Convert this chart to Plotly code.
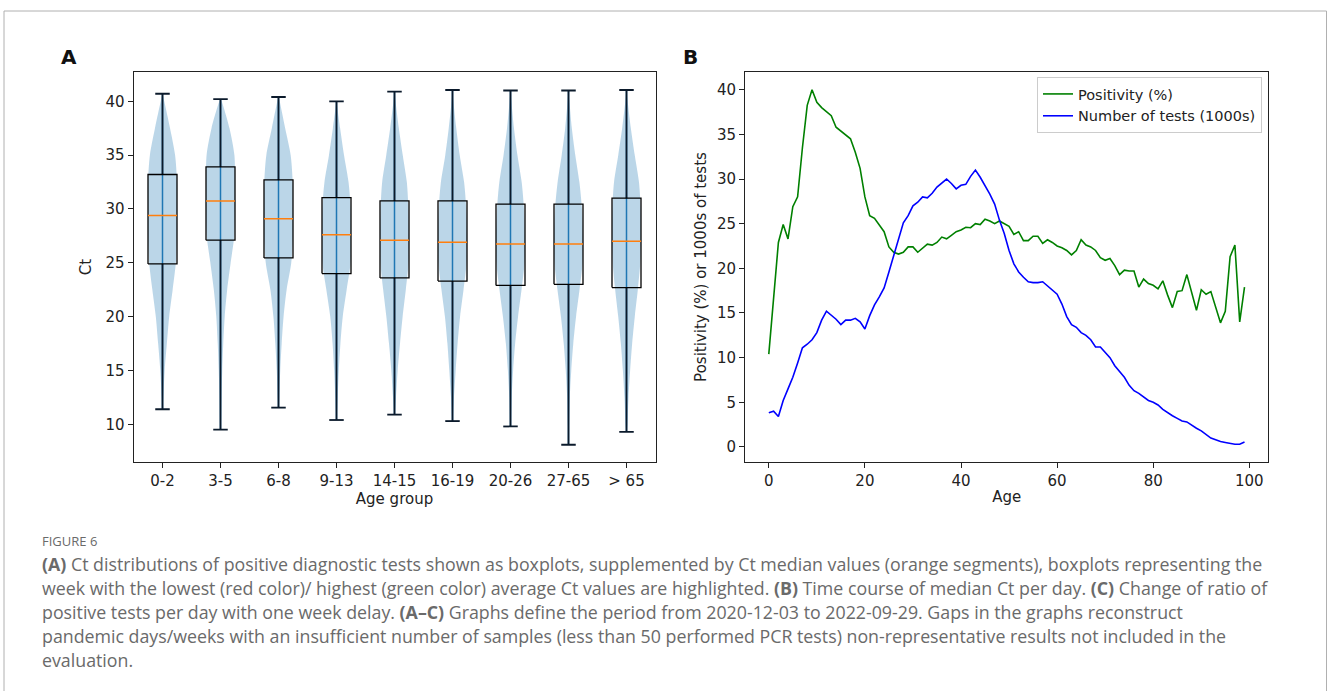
import plotly.graph_objects as go

W, H = 1328, 691

# ---------------- Panel A data ----------------
age_groups = ["0-2", "3-5", "6-8", "9-13", "14-15", "16-19", "20-26", "27-65", "> 65"]
ct_min = [11.4, 9.5, 11.55, 10.4, 10.9, 10.3, 9.8, 8.1, 9.3]
ct_q1 = [24.9, 27.1, 25.45, 24.0, 23.6, 23.3, 22.9, 23.0, 22.7]
ct_median = [29.4, 30.75, 29.1, 27.6, 27.1, 26.9, 26.75, 26.75, 27.0]
ct_q3 = [33.2, 33.9, 32.7, 31.05, 30.75, 30.75, 30.45, 30.45, 31.0]
ct_max = [40.7, 40.2, 40.4, 40.0, 40.9, 41.05, 41.0, 41.0, 41.05]

# relative violin density (1 = widest) at these Ct levels
violin_levels = [10, 12.5, 15, 17.5, 20, 22.5, 25, 27.5, 30, 32.5, 35, 37.5, 40]
vd_0_2 = [0.0, 0.05, 0.15, 0.30, 0.46, 0.70, 0.92, 1.0, 1.0, 1.0, 0.87, 0.52, 0.12]
vd_3_5 = [0.03, 0.07, 0.12, 0.19, 0.29, 0.46, 0.70, 0.95, 1.0, 1.0, 0.96, 0.62, 0.08]
vd_6_8 = [0.0, 0.05, 0.12, 0.22, 0.35, 0.56, 0.88, 1.0, 1.0, 0.98, 0.84, 0.46, 0.08]
vd_9_13 = [0.0, 0.08, 0.16, 0.27, 0.43, 0.70, 0.97, 1.0, 0.98, 0.83, 0.52, 0.25, 0.03]
vd_14_15 = [0.0, 0.10, 0.22, 0.38, 0.56, 0.78, 0.97, 1.0, 0.96, 0.85, 0.57, 0.30, 0.07]
vd_16_19 = [0.0, 0.10, 0.22, 0.35, 0.52, 0.76, 0.97, 1.0, 0.95, 0.80, 0.50, 0.26, 0.06]
vd_20_26 = [0.02, 0.08, 0.18, 0.32, 0.52, 0.76, 0.97, 1.0, 0.93, 0.77, 0.48, 0.24, 0.06]
vd_27_65 = [0.04, 0.09, 0.19, 0.33, 0.52, 0.76, 0.97, 1.0, 0.93, 0.75, 0.47, 0.23, 0.06]
vd_over_65 = [0.06, 0.14, 0.25, 0.39, 0.57, 0.78, 0.95, 1.0, 0.98, 0.86, 0.57, 0.30, 0.08]
violin_density = [vd_0_2, vd_3_5, vd_6_8, vd_9_13, vd_14_15, vd_16_19, vd_20_26, vd_27_65, vd_over_65]

# ---------------- Panel B data ----------------
ages = list(range(100))
positivity = [10.4, 16.5, 22.9, 24.9, 23.3, 26.9, 28.0, 33.5, 38.25, 40.0,
              38.6, 38.0, 37.5, 37.1, 35.8, 35.4, 35.0, 34.5, 33.0, 31.2,
              28.0, 25.9, 25.6, 24.8, 24.1, 22.4, 21.8, 21.6, 21.8, 22.4,
              22.4, 21.8, 22.2, 22.7, 22.6, 22.9, 23.5, 23.3, 23.7, 24.1,
              24.3, 24.6, 24.55, 25.0, 24.9, 25.5, 25.3, 25.0, 25.3, 25.0,
              24.7, 23.8, 24.1, 23.1, 23.1, 23.6, 23.6, 22.8, 23.2, 22.9,
              22.5, 22.3, 22.0, 21.5, 22.0, 23.2, 22.6, 22.4, 22.0, 21.2,
              20.9, 21.1, 20.3, 19.3, 19.8, 19.7, 19.7, 17.9, 18.8, 18.3,
              18.1, 17.7, 18.6, 17.0, 15.6, 17.4, 17.5, 19.3, 17.2, 15.3,
              17.6, 17.1, 17.4, 15.6, 13.9, 15.2, 21.3, 22.6, 14.0, 17.9]
tests_1000s = [3.84, 4.0, 3.4, 5.2, 6.5, 7.8, 9.4, 11.1, 11.5, 12.0,
               12.8, 14.2, 15.2, 14.8, 14.3, 13.7, 14.2, 14.2, 14.4, 14.0,
               13.2, 14.7, 15.9, 16.8, 17.8, 19.6, 21.5, 23.3, 25.1, 25.9,
               27.0, 27.4, 28.0, 27.9, 28.4, 29.1, 29.5, 30.0, 29.5, 28.9,
               29.3, 29.4, 30.3, 31.0, 30.2, 29.3, 28.3, 27.2, 25.4, 23.9,
               22.0, 20.5, 19.6, 19.0, 18.5, 18.4, 18.4, 18.5, 18.0, 17.5,
               17.1, 16.0, 14.6, 13.7, 13.4, 12.8, 12.5, 12.0, 11.2, 11.2,
               10.6, 10.0, 9.1, 8.5, 7.8, 6.9, 6.3, 6.0, 5.6, 5.2,
               5.0, 4.7, 4.2, 3.8, 3.5, 3.2, 2.9, 2.8, 2.4, 2.1,
               1.8, 1.4, 1.0, 0.8, 0.6, 0.5, 0.4, 0.3, 0.3, 0.55]

caption_lines = [
    "<b>(A)</b> Ct distributions of positive diagnostic tests shown as boxplots, supplemented by Ct median values (orange segments), boxplots representing the",
    "week with the lowest (red color)/ highest (green color) average Ct values are highlighted. <b>(B)</b> Time course of median Ct per day. <b>(C)</b> Change of ratio of",
    "positive tests per day with one week delay. <b>(A–C)</b> Graphs define the period from 2020-12-03 to 2022-09-29. Gaps in the graphs reconstruct",
    "pandemic days/weeks with an insufficient number of samples (less than 50 performed PCR tests) non-representative results not included in the",
    "evaluation.",
]

# ---------------- figure ----------------
fig = go.Figure()
BOX_HALF = 0.25
CAP_HALF = 0.125
positions = [i + 1 for i in range(len(age_groups))]

# violins
for p, lo, hi, dens in zip(positions, ct_min, ct_max, violin_density):
    ys = [lo] + [lv for lv in violin_levels if lo < lv < hi] + [hi]
    ws = [0.0] + [d for lv, d in zip(violin_levels, dens) if lo < lv < hi] + [0.0]
    xs = [p + BOX_HALF * w for w in ws] + [p - BOX_HALF * w for w in reversed(ws)]
    yy = ys + list(reversed(ys))
    fig.add_trace(go.Scatter(x=xs, y=yy, mode="lines", fill="toself",
                             fillcolor="rgba(31,119,180,0.3)",
                             line=dict(width=0, shape="spline", smoothing=0.8),
                             showlegend=False, hoverinfo="skip", xaxis="x", yaxis="y"))

def seg_trace(segs, color, width):
    xs, ys = [], []
    for (x0, y0, x1, y1) in segs:
        xs += [x0, x1, None]
        ys += [y0, y1, None]
    return go.Scatter(x=xs, y=ys, mode="lines", line=dict(color=color, width=width),
                      showlegend=False, hoverinfo="skip", xaxis="x", yaxis="y")

# violin center bars
fig.add_trace(seg_trace([(p, lo, p, hi) for p, lo, hi in zip(positions, ct_min, ct_max)], "#1f77b4", 1.5))
# whiskers and caps
wh = []
for p, lo, q1, q3, hi in zip(positions, ct_min, ct_q1, ct_q3, ct_max):
    wh.append((p, q3, p, hi))
    wh.append((p, q1, p, lo))
    wh.append((p - CAP_HALF, hi, p + CAP_HALF, hi))
    wh.append((p - CAP_HALF, lo, p + CAP_HALF, lo))
fig.add_trace(seg_trace(wh, "#0b1a2b", 1.8))
# boxes
bx, by = [], []
for p, q1, q3 in zip(positions, ct_q1, ct_q3):
    bx += [p - BOX_HALF, p + BOX_HALF, p + BOX_HALF, p - BOX_HALF, p - BOX_HALF, None]
    by += [q1, q1, q3, q3, q1, None]
fig.add_trace(go.Scatter(x=bx, y=by, mode="lines", line=dict(color="black", width=1.3),
                         showlegend=False, hoverinfo="skip", xaxis="x", yaxis="y"))
# medians
fig.add_trace(seg_trace([(p - BOX_HALF, m, p + BOX_HALF, m) for p, m in zip(positions, ct_median)], "#ff7f0e", 1.5))

# Panel B lines
fig.add_trace(go.Scatter(x=ages, y=positivity, mode="lines", name="Positivity (%)",
                         line=dict(color="green", width=1.6), xaxis="x2", yaxis="y2"))
fig.add_trace(go.Scatter(x=ages, y=tests_1000s, mode="lines", name="Number of tests (1000s)",
                         line=dict(color="blue", width=1.6), xaxis="x2", yaxis="y2"))

TICKFONT = dict(family="DejaVu Sans", size=15, color="#222")
axis_common = dict(showline=True, mirror=True, linecolor="#222", linewidth=1,
                   ticks="outside", ticklen=5, tickwidth=1, tickcolor="#222",
                   showgrid=False, zeroline=False, tickfont=TICKFONT)

y_lo = 1 - 462 / H
y_hi = 1 - 72 / H

fig.update_layout(
    width=W, height=H,
    margin=dict(l=0, r=0, t=0, b=0),
    paper_bgcolor="white", plot_bgcolor="white",
    xaxis=dict(domain=[133.5 / W, 655.5 / W], range=[0.5, 9.5],
               tickmode="array", tickvals=positions, ticktext=age_groups,
               title=dict(text="Age group", font=TICKFONT, standoff=2), anchor="y", **axis_common),
    yaxis=dict(domain=[y_lo, y_hi], range=[6.5, 42.72], tickvals=[10, 15, 20, 25, 30, 35, 40],
               title=dict(text="Ct", font=TICKFONT, standoff=10), anchor="x", **axis_common),
    xaxis2=dict(domain=[745 / W, 1268.3 / W], range=[-4.95, 103.95],
                tickvals=[0, 20, 40, 60, 80, 100],
                title=dict(text="Age", font=TICKFONT, standoff=2), anchor="y2", **axis_common),
    yaxis2=dict(domain=[y_lo, y_hi], range=[-1.685, 41.985], tickvals=[0, 5, 10, 15, 20, 25, 30, 35, 40],
                title=dict(text="Positivity (%) or 1000s of tests", font=TICKFONT, standoff=6),
                anchor="x2", **axis_common),
    legend=dict(x=1262 / W, y=1 - 77 / H, xanchor="right", yanchor="top",
                bgcolor="white", bordercolor="#cccccc", borderwidth=1,
                font=dict(family="DejaVu Sans", size=14.5, color="#222"),
                itemwidth=30, tracegroupgap=0),
    showlegend=True,
)

# outer frame
fig.add_shape(type="rect", xref="paper", yref="paper",
              x0=4 / W, x1=1326.5 / W, y0=-0.05, y1=1 - 11 / H,
              line=dict(color="#b0b0b0", width=1), fillcolor="rgba(0,0,0,0)", layer="below")

# panel letters
for txt, xp in [("A", 69), ("B", 690)]:
    fig.add_annotation(text="<b>%s</b>" % txt, xref="paper", yref="paper",
                       x=xp / W, y=1 - 57 / H, xanchor="center", yanchor="middle",
                       showarrow=False, font=dict(family="DejaVu Sans", size=20, color="#111"))

# caption
CAP_COLOR = "#6a6a6a"
fig.add_annotation(text="FIGURE 6", xref="paper", yref="paper", x=40 / W, y=1 - 541 / H,
                   xanchor="left", yanchor="middle", showarrow=False,
                   font=dict(family="Open Sans", size=13, color=CAP_COLOR))
cap_y = [564, 588, 612, 636, 660]
for line, yp in zip(caption_lines, cap_y):
    fig.add_annotation(text=line, xref="paper", yref="paper", x=40 / W, y=1 - yp / H,
                       xanchor="left", yanchor="middle", showarrow=False,
                       font=dict(family="Open Sans", size=17.8, color=CAP_COLOR))

fig.write_html("out.html")
